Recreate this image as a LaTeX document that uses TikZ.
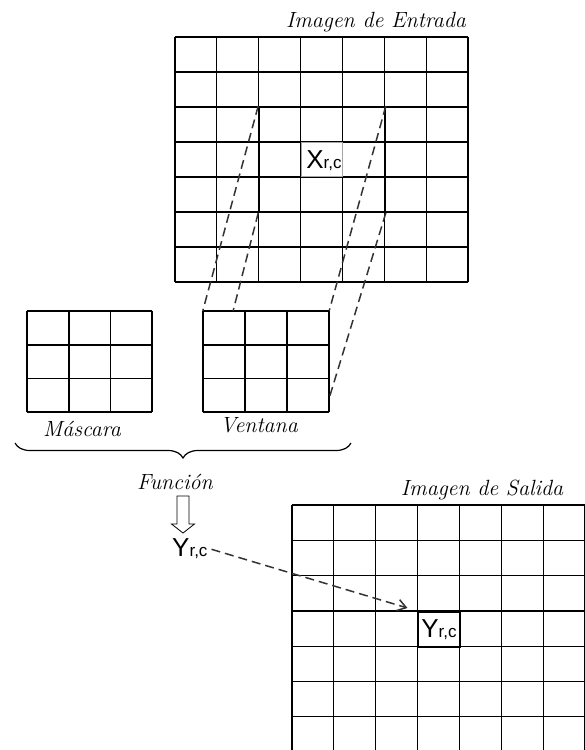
\documentclass[tikz,border=0pt]{standalone}
\usepackage{fontspec}
\newfontfamily\arialfont{Liberation Sans}
\usetikzlibrary{arrows.meta,positioning,calc,decorations.pathreplacing}
\newcommand{\rcsub}{{\fontsize{17}{17}\selectfont r,c}}

\begin{document}
\begin{tikzpicture}[x=1pt, y=-1pt,
  gridln/.style={line width=1.2pt},
  smallln/.style={line width=1.8pt},
  win/.style={draw, line width=2pt, inner sep=0pt},
  lbl/.style={font=\fontsize{22}{24}\selectfont\itshape, inner sep=0pt, anchor=base},
  var/.style={font=\arialfont\fontsize{26}{26}\selectfont, inner sep=0pt},
  cellbox/.style={fill=white, draw=black!35, line width=0.8pt, inner sep=0pt},
  proj/.style={dash pattern=on 9pt off 5pt, line width=1.5pt, draw=black!80},
  arr/.style={proj, -{Straight Barb[length=3mm, width=4mm]}}
]
\useasboundingbox (0,0) rectangle (585,750);

% imagen de entrada
\foreach \i in {0,...,7} {
  \draw[gridln] (175+41.86*\i,37) -- (175+41.86*\i,282);
  \draw[gridln] (175,37+35*\i) -- (468,37+35*\i);
}
\node[lbl] (tin) at (376,27) {Imagen de Entrada};
\node[win, minimum width=125.6pt, minimum height=105pt] (entw) at (322,159.5) {};
\node[cellbox, minimum width=41pt, minimum height=34pt] (xcell) at (322.3,159.5) {};
\node[var, anchor=base] (xrc) at (324,168) {X\rcsub};

% mascara y ventana
\foreach \i in {0,...,3} {
  \draw[smallln] (27+41.7*\i,311) -- (27+41.7*\i,412);
  \draw[smallln] (27,311+33.7*\i) -- (152,311+33.7*\i);
}
\node[minimum width=126pt, minimum height=101pt, inner sep=0pt] (vent) at (266,361.5) {};
\foreach \i in {0,...,3} {
  \draw[smallln] (203+42*\i,311) -- (203+42*\i,412);
  \draw[smallln] (203,311+33.7*\i) -- (329,311+33.7*\i);
}
\node[lbl] (masc) at (82,436) {Máscara};
\node[lbl] (ventl) at (259,432) {Ventana};

% proyeccion de la ventana
\coordinate (v2) at ($(vent.north west)!0.24!(vent.north east)$);
\coordinate (v4) at ($(vent.north east)!0.86!(vent.south east)$);
\draw[proj] (entw.north west) -- (vent.north west);
\draw[proj] (entw.south west) -- (v2);
\draw[proj] (entw.north east) -- (vent.north east);
\draw[proj] (entw.south east) -- (v4);

\draw[decorate, decoration={brace, mirror, amplitude=15pt}, line width=1.2pt] (15,443) -- (351,443);

% funcion
\node[lbl] (fun) at (175,489) {Función};
\coordinate (farr) at (183,496);
\draw[line width=0.8pt] (farr) ++(-6,0) -- ++(0,28) -- ++(-5.5,0) -- ++(11.5,9) -- ++(11.5,-9) -- ++(-5.5,0) -- ++(0,-28) -- cycle;
\node[var, anchor=base west] (yfun) at (172,556) {Y\rcsub};

% imagen de salida
\begin{scope}
\clip (0,0) rectangle (585,750);
\foreach \i in {0,...,7} {
  \draw[gridln] (292+41.86*\i,505) -- (292+41.86*\i,752);
  \draw[gridln] (292,505+35.3*\i) -- (585,505+35.3*\i);
}
\end{scope}
\node[lbl] (tout) at (482,495) {Imagen de Salida};
\node[win, var, fill=white, minimum width=41.86pt, minimum height=35.3pt] (ybox) at (439,629.5) {Y\rcsub};

\draw[arr, shorten <=4pt, shorten >=10pt] (yfun.east) -- (ybox.north west);
\end{tikzpicture}
\end{document}
